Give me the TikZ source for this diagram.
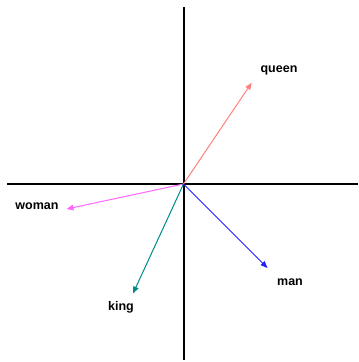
\documentclass[tikz,border=0pt]{standalone}
\usepackage{fontspec}
\setmainfont{Liberation Sans}
\usetikzlibrary{arrows.meta}
\definecolor{queenc}{HTML}{FF8080}
\definecolor{womanc}{HTML}{FF66FF}
\definecolor{kingc}{HTML}{008B8B}
\definecolor{manc}{HTML}{2020FF}
\tikzset{
  axis/.style={line width=1.4pt, black},
  vec/.style={line width=1pt, -{Triangle[length=7pt,width=5.5pt]}},
  lbl/.style={font=\fontsize{12.5}{14}\selectfont\bfseries, inner sep=0pt}
}
\begin{document}
\begin{tikzpicture}[x=1pt,y=-1pt]
\useasboundingbox (0,0) rectangle (359,362);
\coordinate (O) at (183.5,184);
\coordinate (L) at (7,184);
\coordinate (R) at (358,184);
\coordinate (T) at (184,7);
\coordinate (B) at (184,360);
\draw[axis] (L) -- (R);
\draw[axis] (T) -- (B);
\coordinate (q) at (251.7,82.7);
\coordinate (w) at (66.5,209);
\coordinate (k) at (133,293.5);
\coordinate (m) at (267.5,268);
\node[lbl] (ql) at (279,70) {queen};
\node[lbl] (wl) at (37,206) {woman};
\node[lbl] (kl) at (121,307.5) {king};
\node[lbl] (ml) at (290,282) {man};
\draw[vec, queenc] (O) -- (q);
\draw[vec, womanc] (O) -- (w);
\draw[vec, kingc] (O) -- (k);
\draw[vec, manc] (O) -- (m);
\end{tikzpicture}
\end{document}
